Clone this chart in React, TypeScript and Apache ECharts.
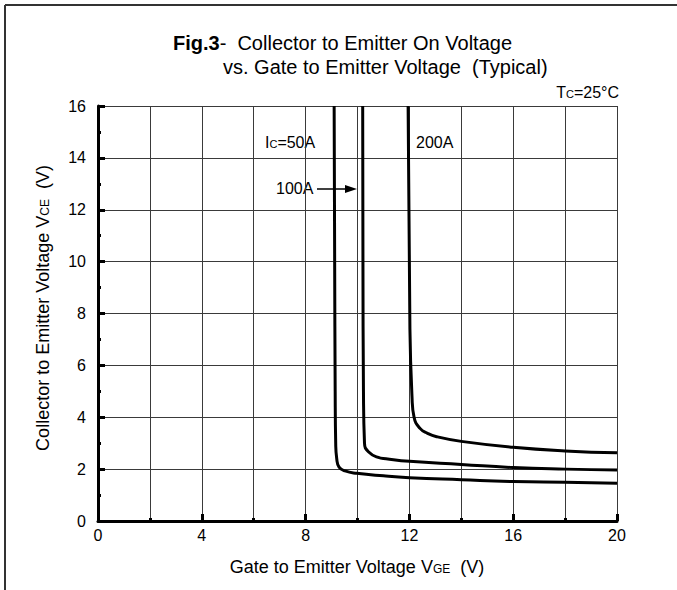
import React, { useEffect, useRef } from "react";
import * as echarts from "echarts";

// Ic = 50 A
const vge50 = [9.1, 9.12, 9.14, 9.16, 9.2, 9.29, 9.52, 9.97, 11, 12, 14, 16, 18, 20];
const vce50 = [16, 10, 5, 3, 2.4, 2.08, 1.93, 1.84, 1.74, 1.67, 1.59, 1.52, 1.49, 1.46];
// Ic = 100 A
const vge100 = [10.2, 10.21, 10.23, 10.27, 10.42, 10.8, 11.1, 12, 14, 16, 18, 20];
const vce100 = [16, 10, 5, 3.0, 2.67, 2.45, 2.4, 2.3, 2.18, 2.06, 2.0, 1.97];
// Ic = 200 A
const vge200 = [11.95, 12.02, 12.1, 12.18, 12.41, 12.7, 13.05, 14, 16, 18, 20];
const vce200 = [16, 7.4, 4.8, 4.0, 3.57, 3.38, 3.25, 3.07, 2.84, 2.7, 2.63];

const X_MIN = 0, X_MAX = 20, X_STEP = 4;
const Y_MIN = 0, Y_MAX = 16, Y_STEP = 2;

const FONT = "'Liberation Sans', Arial, sans-serif";

export default function App() {
  const ref = useRef<HTMLDivElement>(null);
  useEffect(() => {
    if (!ref.current) return;
    const chart = echarts.init(ref.current, null, { renderer: "svg" });
    const grid = { color: "#3a3a3a", width: 1 };
    const mk = (xs: number[], ys: number[], name: string) => ({
      type: "line",
      name,
      data: xs.map((x, i) => [x, ys[i]]),
      showSymbol: false,
      smooth: 0.5,
      lineStyle: { color: "#000", width: 3 },
      silent: true,
    });
    chart.setOption({
      animation: false,
      backgroundColor: "#fff",
      grid: { left: 98, right: 60, top: 106, bottom: 69, containLabel: false },
      xAxis: {
        type: "value",
        min: X_MIN,
        max: X_MAX,
        interval: X_STEP,
        axisLine: { lineStyle: { color: "#000", width: 3 } },
        axisTick: { inside: true, length: 7, lineStyle: { color: "#000", width: 3 } },
        minorTick: { show: true, splitNumber: 2, length: 3, lineStyle: { color: "#000", width: 3 } },
        splitLine: { show: true, lineStyle: grid },
        minorSplitLine: { show: true, lineStyle: grid },
        axisLabel: { color: "#000", fontSize: 16, fontFamily: FONT, margin: 6 },
      },
      yAxis: {
        type: "value",
        min: Y_MIN,
        max: Y_MAX,
        interval: Y_STEP,
        axisLine: { show: true, lineStyle: { color: "#000", width: 3 } },
        axisTick: { show: true, inside: true, length: 7, lineStyle: { color: "#000", width: 3 } },
        minorTick: { show: true, splitNumber: 2, length: 3, lineStyle: { color: "#000", width: 3 } },
        splitLine: { show: true, lineStyle: grid },
        axisLabel: { color: "#000", fontSize: 16, fontFamily: FONT, margin: 12 },
      },
      series: [
        mk(vge50, vce50, "50A"),
        mk(vge100, vce100, "100A"),
        mk(vge200, vce200, "200A"),
      ],
      graphic: [
        { type: "line", shape: { x1: 5, y1: 5, x2: 677, y2: 5 }, style: { stroke: "#333", lineWidth: 2 } },
        { type: "line", shape: { x1: 5, y1: 5, x2: 5, y2: 590 }, style: { stroke: "#333", lineWidth: 2 } },
        {
          type: "text",
          left: 173,
          top: 33,
          style: {
            text: "{b|Fig.3}-  Collector to Emitter On Voltage",
            font: `20px ${FONT}`,
            fill: "#000",
            rich: { b: { fontWeight: "bold", fontSize: 20, fontFamily: FONT, fill: "#000" } },
          },
        },
        {
          type: "text",
          left: 223,
          top: 57,
          style: { text: "vs. Gate to Emitter Voltage  (Typical)", font: `20px ${FONT}`, fill: "#000" },
        },
        {
          type: "text",
          right: 58,
          top: 84,
          style: {
            text: "T{s|C}=25°C",
            font: `16px ${FONT}`,
            fill: "#000",
            rich: { s: { fontSize: 11, fontFamily: FONT, fill: "#000", padding: [4, 0, 0, 0] } },
          },
        },
        {
          type: "text",
          left: 265,
          top: 134,
          style: {
            text: "I{s|C}=50A",
            font: `16px ${FONT}`,
            fill: "#000",
            rich: { s: { fontSize: 11, fontFamily: FONT, fill: "#000", padding: [4, 0, 0, 0] } },
          },
        },
        {
          type: "text",
          left: 416,
          top: 134,
          style: { text: "200A", font: `16px ${FONT}`, fill: "#000" },
        },
        {
          type: "text",
          left: 276,
          top: 180,
          style: { text: "100A", font: `16px ${FONT}`, fill: "#000" },
        },
        { type: "line", shape: { x1: 317, y1: 189, x2: 348, y2: 189 }, style: { stroke: "#000", lineWidth: 1.5 } },
        { type: "polygon", shape: { points: [[357, 189], [345, 185], [345, 193]] }, style: { fill: "#000" } },
        {
          type: "text",
          x: 357,
          y: 567,
          style: {
            text: "Gate to Emitter Voltage V{s|GE}  (V)",
            font: `18px ${FONT}`,
            fill: "#000",
            align: "center",
            verticalAlign: "middle",
            rich: { s: { fontSize: 12, fontFamily: FONT, fill: "#000", padding: [4, 0, 0, 0] } },
          },
        },
        {
          type: "text",
          x: 43,
          y: 308,
          rotation: Math.PI / 2,
          style: {
            text: "Collector to Emitter Voltage V{s|CE}  (V)",
            font: `18px ${FONT}`,
            fill: "#000",
            align: "center",
            verticalAlign: "middle",
            rich: { s: { fontSize: 12, fontFamily: FONT, fill: "#000", padding: [4, 0, 0, 0] } },
          },
        },
      ],
    });
    return () => chart.dispose();
  }, []);
  return (
    <div
      ref={ref}
      style={{ position: "fixed", left: 0, top: 0, width: 677, height: 590, background: "#fff" }}
    />
  );
}
